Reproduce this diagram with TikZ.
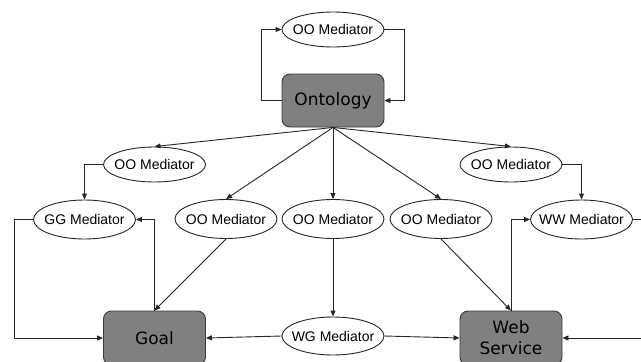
\documentclass[tikz,border=0pt]{standalone}
\usepackage{fontspec}
\setmainfont{Liberation Sans}
\newfontfamily\boxfont{DejaVu Sans}
\usetikzlibrary{arrows.meta,shapes.geometric}

\definecolor{linec}{HTML}{262626}
\definecolor{boxfill}{HTML}{808080}
\definecolor{boxline}{HTML}{3A3A3A}

% label set in a zero-width box so the ellipse keeps its given size
\newcommand\medlabel[1]{\makebox[0pt]{#1}}

\tikzset{
  med/.style={ellipse, draw=linec, line width=0.9pt, fill=white,
    minimum width=102pt, minimum height=35pt, inner sep=0pt,
    font=\fontsize{14}{16}\selectfont},
  medtall/.style={med, minimum height=39pt},
  entity/.style={rectangle, rounded corners=8pt, draw=boxline, line width=0.9pt,
    fill=boxfill, minimum width=102pt, minimum height=53pt, inner sep=0pt,
    align=center, font=\boxfont\fontsize{17}{21}\selectfont},
  link/.style={draw=linec, line width=0.9pt,
    -{Triangle[length=6pt,width=5pt]}},
}

\begin{document}
\begin{tikzpicture}[x=1pt,y=-1pt]
\useasboundingbox (0,0) rectangle (641,362);

% entities
\node[entity] (ont) at (333,100.5) {Ontology};
\node[entity, minimum height=54pt] (goal) at (154.5,338) {Goal};
\node[entity, minimum height=54pt] (ws) at (511,338) {Web\\Service};

% mediators
\node[med] (ootop) at (333,29.5) {\medlabel{OO Mediator}};
\node[med] (ooL) at (154.5,164.5) {\medlabel{OO Mediator}};
\node[med] (ooR) at (511,164.5) {\medlabel{OO Mediator}};
\node[medtall] (gg) at (84.5,219.5) {\medlabel{GG Mediator}};
\node[medtall] (ooa) at (226,219) {\medlabel{OO Mediator}};
\node[medtall] (oob) at (333,219) {\medlabel{OO Mediator}};
\node[medtall] (ooc) at (441,219) {\medlabel{OO Mediator}};
\node[medtall] (ww) at (581.5,219.5) {\medlabel{WW Mediator}};
\node[medtall, minimum height=38pt] (wg) at (333,336) {\medlabel{WG Mediator}};

% ontology self-mediation loop
\draw[link] (ont.west) -- ++(-20,0) |- (ootop.west);
\draw[link] (ootop.east) -- ++(20,0) |- (ont.east);

% ontology fan-out
\draw[link] (ont.south) -- (ooL.north);
\draw[link] (ont.south) -- (ooR.north);
\draw[link] (ont.south) -- (ooa.north);
\draw[link] (ont.south) -- (oob.north);
\draw[link] (ont.south) -- (ooc.north);

% OO mediators feeding GG and WW mediators
\draw[link] (ooL.west) -| (gg.north);
\draw[link] (ooR.east) -| (ww.north);

% goal side
\draw[link] (gg.west) -- ++(-19,0) |- (goal.west);
\draw[link] (goal.north) |- (gg.east);
\draw[link] (ooa.south) -- (goal.north);

% centre
\draw[link] (oob.south) -- (wg.north);
\draw[link] (wg.west) -- (goal.east);
\draw[link] (wg.east) -- (ws.west);

% web service side
\draw[link] (ooc.south) -- (ws.north);
\draw[link] (ws.north) |- (ww.west);
\draw[link] (ww.east) -- ++(20,0) |- (ws.east);
\end{tikzpicture}
\end{document}
